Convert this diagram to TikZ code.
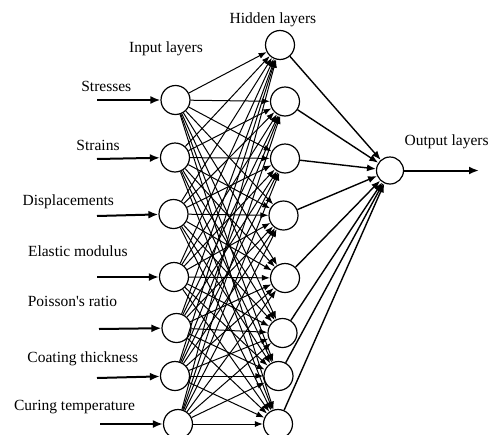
\documentclass[tikz,border=0pt]{standalone}
\usepackage{fontspec}
\setmainfont{Liberation Serif}
\usetikzlibrary{arrows.meta}
\begin{document}
\begin{tikzpicture}[x=1pt,y=-1pt,
  neuron/.style={circle,draw,line width=1.2pt,minimum size=29pt,inner sep=0pt,fill=white},
  outneuron/.style={circle,draw,line width=1.2pt,minimum size=27pt,inner sep=0pt,fill=white},
  lab/.style={font=\fontsize{15.5}{18}\selectfont,inner sep=0pt},
  conn/.style={line width=1pt,-{Latex[length=8pt,width=6pt]}},
  outc/.style={line width=1.4pt,-{Latex[length=9pt,width=7pt]}},
  inarrow/.style={line width=2pt,-{Latex[length=10pt,width=8pt]}}]
\useasboundingbox (0,0) rectangle (492,434);
% input nodes
\node[neuron] (i1) at (175.5,100) {};
\node[neuron] (i2) at (175,157.5) {};
\node[neuron] (i3) at (173.5,214) {};
\node[neuron] (i4) at (174,277) {};
\node[neuron] (i5) at (176.5,328) {};
\node[neuron] (i6) at (175,376) {};
\node[neuron] (i7) at (178,424) {};
% hidden nodes
\node[neuron] (h1) at (280,45) {};
\node[neuron] (h2) at (285,101.5) {};
\node[neuron] (h3) at (285,158.5) {};
\node[neuron] (h4) at (283.5,215.5) {};
\node[neuron] (h5) at (285,278) {};
\node[neuron] (h6) at (282.5,333) {};
\node[neuron] (h7) at (278.5,376) {};
\node[neuron] (h8) at (278,424) {};
% output node
\node[outneuron] (o) at (390,170.5) {};
% connections
\foreach \i in {1,...,7}
  \foreach \j in {1,...,8}
    \draw[conn] (i\i) -- (h\j);
\foreach \j in {1,...,8}
  \draw[outc] (h\j) -- (o);
% input arrows
\coordinate (a1) at (97,100);
\coordinate (a2) at (97,159);
\coordinate (a3) at (97,216);
\coordinate (a4) at (97,277);
\coordinate (a5) at (99,329);
\coordinate (a6) at (97,378);
\coordinate (a7) at (100,424);
\foreach \k in {1,...,7}
  \draw[inarrow] (a\k) -- (i\k);
\coordinate (oe) at (479,170.5);
\draw[inarrow] (o) -- (oe);
% labels
\node[lab] (tH) at (273,20) {Hidden layers};
\node[lab] (tI) at (166,49) {Input layers};
\node[lab] (tO) at (446.7,141.7) {Output layers};
\node[lab] (t1) at (106.3,86.7) {Stresses};
\node[lab] (t2) at (98,145.7) {Strains};
\node[lab] (t3) at (68.3,201.7) {Displacements};
\node[lab] (t4) at (77.8,251.3) {Elastic modulus};
\node[lab] (t5) at (72.5,301.3) {Poisson\textquotesingle s ratio};
\node[lab] (t6) at (82.8,358.3) {Coating thickness};
\node[lab] (t7) at (74.5,407.3) {Curing temperature};
\end{tikzpicture}
\end{document}
